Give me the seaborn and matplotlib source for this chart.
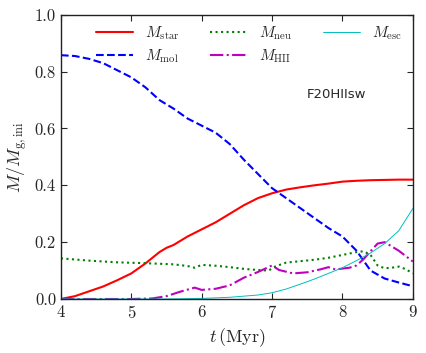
import numpy as np
import matplotlib
matplotlib.use("Agg")
import matplotlib.pyplot as plt
import seaborn as sns

# values (time in Myr, mass fractions)
t_star = [4.0, 4.2, 4.4, 4.6, 4.8, 5.0, 5.2, 5.4, 5.5, 5.6, 5.8, 6.0, 6.2, 6.4, 6.6, 6.8,
          7.0, 7.2, 7.4, 7.6, 7.8, 8.0, 8.2, 8.4, 8.6, 8.8, 9.0]
m_star = [0.0, 0.01, 0.027, 0.044, 0.066, 0.09, 0.125, 0.165, 0.18, 0.19, 0.22, 0.245, 0.27,
          0.30, 0.33, 0.355, 0.372, 0.385, 0.393, 0.400, 0.406, 0.413, 0.416, 0.418, 0.419, 0.42, 0.42]

t_mol = [4.0, 4.2, 4.4, 4.6, 4.8, 5.0, 5.2, 5.4, 5.6, 5.8, 6.0, 6.2, 6.4, 6.6, 6.8, 7.0,
         7.2, 7.4, 7.6, 7.8, 8.0, 8.2, 8.4, 8.6, 8.8, 9.0]
m_mol = [0.858, 0.855, 0.845, 0.83, 0.805, 0.78, 0.745, 0.70, 0.67, 0.635, 0.61, 0.585, 0.545,
         0.49, 0.44, 0.39, 0.355, 0.32, 0.285, 0.25, 0.22, 0.17, 0.10, 0.072, 0.058, 0.045]

t_neu = [4.0, 4.4, 4.8, 5.2, 5.6, 5.8, 5.9, 6.0, 6.2, 6.4, 6.6, 6.8, 6.95, 7.05, 7.2, 7.4,
         7.6, 7.8, 8.0, 8.2, 8.3, 8.4, 8.5, 8.6, 8.7, 8.8, 8.9, 9.0]
m_neu = [0.143, 0.135, 0.129, 0.126, 0.122, 0.116, 0.11, 0.12, 0.117, 0.112, 0.106, 0.102, 0.1,
         0.115, 0.128, 0.133, 0.138, 0.145, 0.155, 0.165, 0.168, 0.155, 0.118, 0.108, 0.11,
         0.114, 0.105, 0.09]

t_hii = [4.0, 5.0, 5.3, 5.5, 5.7, 5.9, 6.0, 6.2, 6.4, 6.6, 6.8, 7.0, 7.1, 7.3, 7.5, 7.7,
         7.8, 7.9, 8.1, 8.2, 8.3, 8.4, 8.5, 8.6, 8.7, 8.8, 9.0]
m_hii = [0.0, 0.0, 0.002, 0.01, 0.026, 0.04, 0.032, 0.036, 0.048, 0.075, 0.095, 0.118, 0.102,
         0.09, 0.094, 0.105, 0.112, 0.104, 0.11, 0.118, 0.14, 0.168, 0.195, 0.2, 0.185, 0.17, 0.132]

t_esc = [4.0, 5.0, 5.5, 6.0, 6.4, 6.8, 7.0, 7.2, 7.4, 7.6, 7.8, 8.0, 8.2, 8.4, 8.6, 8.8, 9.0]
m_esc = [0.0, 0.0, 0.0, 0.002, 0.006, 0.014, 0.022, 0.035, 0.052, 0.07, 0.09, 0.11, 0.135,
         0.162, 0.195, 0.24, 0.318]

sns.set_style("ticks")
plt.rcParams["font.family"] = ["cmr10", "DejaVu Serif"]
plt.rcParams["mathtext.fontset"] = "cm"
plt.rcParams["axes.formatter.use_mathtext"] = True
plt.rcParams["axes.unicode_minus"] = False

fig = plt.figure(figsize=(4.26, 3.53), dpi=100)
ax = fig.add_axes([0.143, 0.153, 0.826, 0.805])

sns.lineplot(x=t_star, y=m_star, ax=ax, color="red", lw=1.5, label=r"$M_{\rm star}$")
sns.lineplot(x=t_mol, y=m_mol, ax=ax, color="blue", lw=1.5, ls="--", label=r"$M_{\rm mol}$")
sns.lineplot(x=t_neu, y=m_neu, ax=ax, color="green", lw=1.5, ls=":", label=r"$M_{\rm neu}$")
sns.lineplot(x=t_hii, y=m_hii, ax=ax, color="m", lw=1.5, ls="-.", label=r"$M_{\rm HII}$")
sns.lineplot(x=t_esc, y=m_esc, ax=ax, color="c", lw=0.7, label=r"$M_{\rm esc}$")

ax.set_xlim(4, 9)
ax.set_ylim(0, 1.0)
ax.set_xticks([4, 5, 6, 7, 8, 9])
ax.set_yticks([0.0, 0.2, 0.4, 0.6, 0.8, 1.0])
ax.set_yticklabels(["0.0", "0.2", "0.4", "0.6", "0.8", "1.0"])
ax.tick_params(direction="in", top=True, right=True, length=4, labelsize=12)
for s in ax.spines.values():
    s.set_color("#222222")
    s.set_linewidth(1.0)

ax.set_xlabel(r"$t\,({\rm Myr})$", fontsize=13)
ax.set_ylabel(r"$M/M_{\rm g,ini}$", fontsize=13)
ax.text(7.5, 0.72, "F20HIIsw", family="DejaVu Sans", fontsize=9.5, ha="left", va="center")

ax.legend(loc="upper center", ncol=3, frameon=False, fontsize=11, handlelength=2.4,
          columnspacing=2.0, labelspacing=0.35, bbox_to_anchor=(0.535, 1.015))

fig.savefig("out.png", dpi=100)
